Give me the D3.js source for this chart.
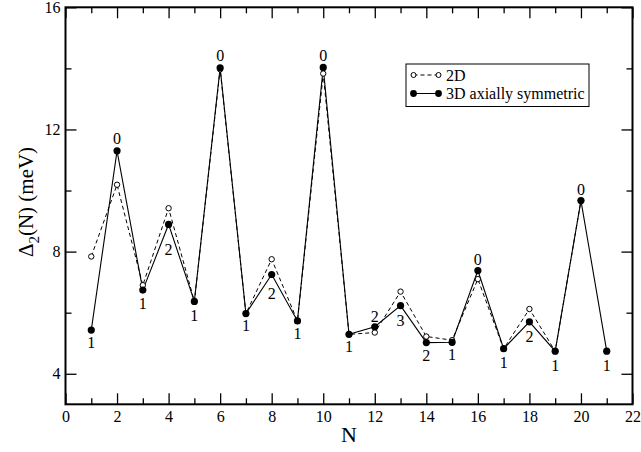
<!DOCTYPE html>
<html lang="en">
<head>
<meta charset="utf-8">
<title>Delta2(N)</title>
<script src="https://d3js.org/d3.v7.min.js"></script>
<style>
  body { margin: 0; background: white; }
  text { font-family: "Liberation Serif", "Times New Roman", serif; fill: black; }
</style>
</head>
<body>
<script>
// data
var nVals  = [1, 2, 3, 4, 5, 6, 7, 8, 9, 10, 11, 12, 13, 14, 15, 16, 17, 18, 19, 20, 21];
var val3D  = [5.43, 11.30, 6.74, 8.89, 6.37, 14.02, 5.97, 7.25, 5.73, 14.03, 5.29, 5.54, 6.23, 5.02, 5.03, 7.38, 4.82, 5.70, 4.74, 9.67, 4.74];
var n2D    = [1, 2, 3, 4, 5, 6, 7, 8, 9, 10, 11, 12, 13, 14, 15, 16, 17, 18, 19, 20];
var val2D  = [7.84, 10.19, 6.90, 9.42, 6.37, 13.97, 5.97, 7.75, 5.73, 13.83, 5.29, 5.35, 6.69, 5.22, 5.10, 7.10, 4.82, 6.12, 4.74, 9.67];
var labels = ["1", "0", "1", "2", "1", "0", "1", "2", "1", "0", "1", "2", "3", "2", "1", "0", "1", "2", "1", "0", "1"];
var labelDy = [12, -12, 13, 25, 14, -12, 12, 19, 12, -12, 12, -10, 15, 13, 12, -11, 14, 15, 14, -11, 14];
var xTicks = [0, 2, 4, 6, 8, 10, 12, 14, 16, 18, 20, 22];
var yTicks = [4, 8, 12, 16];
var seriesNames = ["2D", "3D axially symmetric"];

var w = 641, h = 452;
var mLeft = 65.5, mRight = 632.5, mTop = 7.3, mBottom = 404.3;

var svg = d3.select("body").append("svg").attr("width", w).attr("height", h);

var x = d3.scaleLinear().domain([0, 22]).range([mLeft, mRight]);
var y = d3.scaleLinear().domain([3, 16]).range([mBottom, mTop]);

// minor ticks
var xMinor = d3.range(1, 22, 2);
var yMinor = [6, 10, 14];

// axes (ticks inward on all sides)
var xAxisB = d3.axisBottom(x).tickValues(xTicks).tickSize(-11).tickPadding(6);
var xAxisT = d3.axisTop(x).tickValues(xTicks).tickSize(-11).tickFormat("");
var yAxisL = d3.axisLeft(y).tickValues(yTicks).tickSize(-11).tickPadding(5);
var yAxisR = d3.axisRight(y).tickValues(yTicks).tickSize(-11).tickFormat("");

function styleAxis(g) {
    g.select(".domain").remove();
    g.selectAll("line").attr("stroke", "black").attr("stroke-width", 1.3);
    g.selectAll("text").style("font-family", "'Liberation Serif', serif").style("font-size", "16px");
}

svg.append("g").attr("transform", "translate(0," + mBottom + ")").call(xAxisB).call(styleAxis);
svg.append("g").attr("transform", "translate(0," + mTop + ")").call(xAxisT).call(styleAxis);
svg.append("g").attr("transform", "translate(" + mLeft + ",0)").call(yAxisL).call(styleAxis);
svg.append("g").attr("transform", "translate(" + mRight + ",0)").call(yAxisR).call(styleAxis);

svg.append("g").attr("transform", "translate(0," + mBottom + ")")
    .call(d3.axisBottom(x).tickValues(xMinor).tickSize(-6).tickFormat("")).call(styleAxis);
svg.append("g").attr("transform", "translate(0," + mTop + ")")
    .call(d3.axisTop(x).tickValues(xMinor).tickSize(-6).tickFormat("")).call(styleAxis);
svg.append("g").attr("transform", "translate(" + mLeft + ",0)")
    .call(d3.axisLeft(y).tickValues(yMinor).tickSize(-6).tickFormat("")).call(styleAxis);
svg.append("g").attr("transform", "translate(" + mRight + ",0)")
    .call(d3.axisRight(y).tickValues(yMinor).tickSize(-6).tickFormat("")).call(styleAxis);

// frame
svg.append("rect").attr("x", mLeft).attr("y", mTop)
    .attr("width", mRight - mLeft).attr("height", mBottom - mTop)
    .attr("fill", "none").attr("stroke", "black").attr("stroke-width", 2);

// axis titles
svg.append("text").attr("x", (mLeft + mRight) / 2).attr("y", 442)
    .attr("text-anchor", "middle").style("font-size", "22px").text("N");

var yt = svg.append("text")
    .attr("transform", "translate(33," + 202 + ") rotate(-90)")
    .attr("text-anchor", "middle").style("font-size", "21px");
yt.append("tspan").text("\u0394");
yt.append("tspan").attr("dy", 6).style("font-size", "15px").text("2");
yt.append("tspan").attr("dy", -6).text("(N) (meV)");

// lines
var data2D = n2D.map(function(n, i) { return [n, val2D[i]]; });
var data3D = nVals.map(function(n, i) { return [n, val3D[i]]; });
var line = d3.line().x(function(d) { return x(d[0]); }).y(function(d) { return y(d[1]); });

svg.append("path").datum(data2D).attr("d", line)
    .attr("fill", "none").attr("stroke", "black").attr("stroke-width", 1).attr("stroke-dasharray", "4,3");
svg.append("path").datum(data3D).attr("d", line)
    .attr("fill", "none").attr("stroke", "black").attr("stroke-width", 1.1);

svg.append("g").selectAll("circle").data(data2D).enter().append("circle")
    .attr("cx", function(d) { return x(d[0]); })
    .attr("cy", function(d) { return y(d[1]); })
    .attr("r", 2.7).attr("fill", "white").attr("stroke", "black").attr("stroke-width", 1);

svg.append("g").selectAll("circle").data(data3D).enter().append("circle")
    .attr("cx", function(d) { return x(d[0]); })
    .attr("cy", function(d) { return y(d[1]); })
    .attr("r", 3.6).attr("fill", "black");

// point labels
svg.append("g").selectAll("text").data(data3D).enter().append("text")
    .attr("x", function(d) { return x(d[0]); })
    .attr("y", function(d, i) { return y(d[1]) + labelDy[i]; })
    .attr("dy", "0.35em")
    .attr("text-anchor", "middle").style("font-size", "16px")
    .text(function(d, i) { return labels[i]; });

// legend
var lg = svg.append("g");
lg.append("rect").attr("x", 406).attr("y", 64).attr("width", 183).attr("height", 42.5)
    .attr("fill", "white").attr("stroke", "black").attr("stroke-width", 1);
lg.append("line").attr("x1", 413.5).attr("x2", 438.5).attr("y1", 75).attr("y2", 75)
    .attr("stroke", "black").attr("stroke-dasharray", "4,3");
lg.selectAll("circle.l2").data([413.5, 438.5]).enter().append("circle")
    .attr("cx", function(d) { return d; }).attr("cy", 75).attr("r", 2.5)
    .attr("fill", "white").attr("stroke", "black");
lg.append("line").attr("x1", 413.5).attr("x2", 438.5).attr("y1", 93.5).attr("y2", 93.5)
    .attr("stroke", "black");
lg.selectAll("circle.l3").data([413.5, 438.5]).enter().append("circle")
    .attr("cx", function(d) { return d; }).attr("cy", 93.5).attr("r", 3.4)
    .attr("fill", "black");
lg.selectAll("text").data(seriesNames).enter().append("text")
    .attr("x", 446).attr("y", function(d, i) { return 75 + i * 18.5; })
    .attr("dy", "0.35em").style("font-size", "16px")
    .text(function(d) { return d; });
</script>
</body>
</html>
